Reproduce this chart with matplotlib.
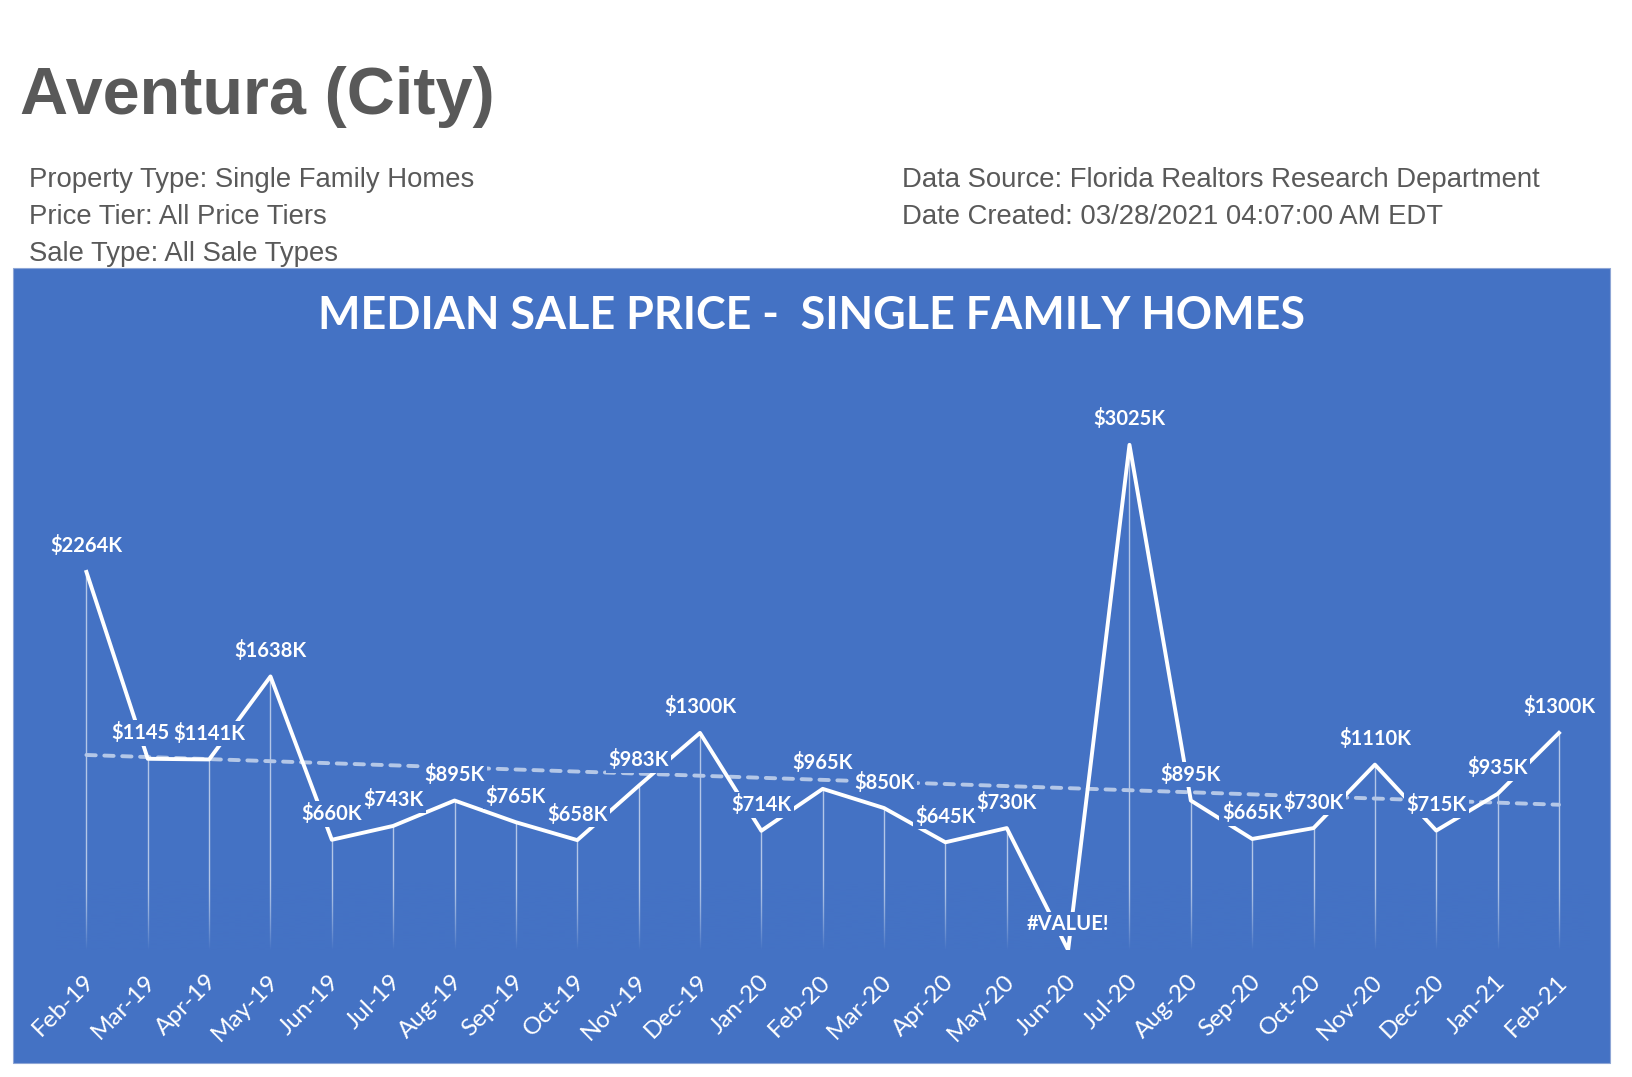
import numpy as np
import matplotlib
matplotlib.use("Agg")
import matplotlib.pyplot as plt
from matplotlib.patches import Rectangle
from matplotlib.transforms import ScaledTranslation

# ---- data (median sale price, $K) ----
months = ["Feb-19", "Mar-19", "Apr-19", "May-19", "Jun-19", "Jul-19", "Aug-19", "Sep-19",
          "Oct-19", "Nov-19", "Dec-19", "Jan-20", "Feb-20", "Mar-20", "Apr-20", "May-20",
          "Jun-20", "Jul-20", "Aug-20", "Sep-20", "Oct-20", "Nov-20", "Dec-20", "Jan-21", "Feb-21"]
prices = [2264, 1145, 1141, 1638, 660, 743, 895, 765, 658, 983, 1300, 714,
          965, 850, 645, 730, 0, 3025, 895, 665, 730, 1110, 715, 935, 1300]
# as shown on the chart (the "K" of Mar-19 is hidden behind its neighbour)
point_labels = ["$2264K", "$1145", "$1141K", "$1638K", "$660K", "$743K", "$895K", "$765K",
                "$658K", "$983K", "$1300K", "$714K", "$965K", "$850K", "$645K", "$730K",
                "#VALUE!", "$3025K", "$895K", "$665K", "$730K", "$1110K", "$715K", "$935K", "$1300K"]

W, H = 1633, 1077
BLUE = "#4472C4"
GREY = "#595959"

fig = plt.figure(figsize=(W / 100, H / 100), dpi=100)
fig.patch.set_facecolor("white")

def fx(px): return px / W
def fy(py): return 1 - py / H

# header block
fig.text(fx(20), fy(114), "Aventura (City)", fontsize=48, fontweight="bold",
         family="Liberation Sans", color=GREY, va="baseline")
meta_left = ["Property Type: Single Family Homes", "Price Tier: All Price Tiers", "Sale Type: All Sale Types"]
meta_right = ["Data Source: Florida Realtors Research Department", "Date Created: 03/28/2021 04:07:00 AM EDT"]
for i, t in enumerate(meta_left):
    fig.text(fx(29), fy(187 + 37 * i), t, fontsize=19.8, family="Liberation Sans", color=GREY, va="baseline")
for i, t in enumerate(meta_right):
    fig.text(fx(902), fy(187 + 37 * i), t, fontsize=19.8, family="Liberation Sans", color=GREY, va="baseline")

# blue chart panel
fig.patches.append(Rectangle((fx(13.5), fy(1063)), (1610 - 13.5) / W, (1063 - 268) / H,
                             transform=fig.transFigure, fc=BLUE, ec="#8EA6D6", lw=0.8, zorder=-1))
fig.text(fx(812), fy(329), "MEDIAN SALE PRICE -  SINGLE FAMILY HOMES", fontsize=32.3, fontweight="bold",
         family="Lato", color="white", ha="center", va="baseline")

# plot area: Feb-19 at x=86.4px, step 61.3px; zero at y=950px, 0.167 px per $K
left_px, right_px = 86.4 - 30.65, 1559 + 30.65
top_px, zero_px = 400, 950
ymax = (zero_px - top_px) / 0.167
ax = fig.add_axes([fx(left_px), fy(zero_px), (right_px - left_px) / W, (zero_px - top_px) / H])
ax.set_zorder(2)
ax.patch.set_alpha(0)

x = np.arange(len(months))
y = np.array(prices, dtype=float)

ax.vlines(x, 0, y, color="white", alpha=0.6, lw=1.0, zorder=1)
# fade the drop lines towards the axis
grad = np.zeros((100, 1, 4))
grad[..., :3] = matplotlib.colors.to_rgb(BLUE)
grad[:, 0, 3] = np.linspace(1, 0, 100) ** 1.5
ax.imshow(grad, extent=(-0.5, 24.5, 0, 420), origin="lower", aspect="auto",
          interpolation="bilinear", zorder=1.5)

coef = np.polyfit(x, y, 1)
ends = np.array([x[0], x[-1]])
ax.plot(ends, np.polyval(coef, ends), color="#B4C7E7", lw=2.8, dashes=(2.4, 2.2),
        dash_capstyle="round", zorder=2)

ax.plot(x, y, color="white", lw=2.8, zorder=3, solid_joinstyle="round")

for xi, v, lab in zip(x, y, point_labels):
    dx = -5 if lab == "$1145" else 0  # truncated label sits left of its point
    ax.annotate(lab, (xi, v), xytext=(dx, 18.7), textcoords="offset points", ha="center", va="center",
                color="white", fontsize=14.5, fontweight="bold", family="Lato",
                bbox=dict(boxstyle="square,pad=0.12", fc=BLUE, ec="none"),
                zorder=4, annotation_clip=False)

ax.set_xlim(-0.5, 24.5)
ax.set_ylim(0, ymax)
ax.set_yticks([])
ax.set_xticks(x)
ax.set_xticklabels(months, rotation=45, ha="right", va="top", rotation_mode="anchor",
                   color="white", fontsize=17.5, family="Lato")
ax.tick_params(axis="x", length=0, pad=15)
for lbl in ax.get_xticklabels():
    lbl.set_transform(lbl.get_transform() + ScaledTranslation(-3 / 100, 0, fig.dpi_scale_trans))
for s in ax.spines.values():
    s.set_visible(False)

fig.savefig("out.png", dpi=100, facecolor="white")
